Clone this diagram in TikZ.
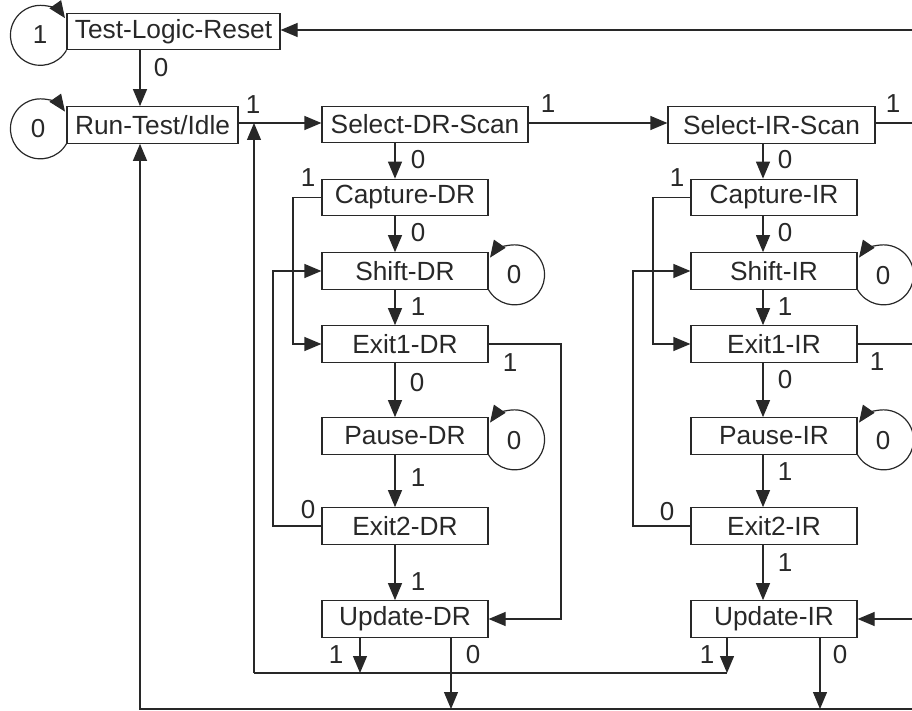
\documentclass[tikz,border=0pt]{standalone}
\usepackage{fontspec}
\setmainfont{Liberation Sans}
\usetikzlibrary{arrows.meta}
\definecolor{ink}{RGB}{40,40,40}
\begin{document}
\begin{tikzpicture}[x=1pt,y=1pt,
  st/.style={draw=ink, line width=1.2pt, minimum height=36.5pt, inner sep=0pt, text=ink, font=\fontsize{26.3}{30}\selectfont},
  col/.style={st, minimum width=166pt},
  lbl/.style={text=ink, inner sep=0pt, font=\fontsize{26}{30}\selectfont},
  wire/.style={draw=ink, line width=1.2pt},
  arr/.style={wire, -{Triangle[length=17pt,width=14pt]}},
]
\useasboundingbox (0,0) rectangle (912,710);

% states
\node[st, minimum width=213pt] (tlr) at (173.5,678.5) {Test-Logic-Reset};
\node[st, minimum width=171pt] (rti) at (152.5,585) {Run-Test/Idle};
\node[st, minimum width=206pt] (sdr) at (425,585.5) {Select-DR-Scan};
\node[st, minimum width=207pt] (sir) at (771.5,585) {Select-IR-Scan};

\node[col] (cdr)  at (405,512.5) {Capture-DR};
\node[col] (shdr) at (405,439)   {Shift-DR};
\node[col] (e1dr) at (405,366)   {Exit1-DR};
\node[col] (pdr)  at (405,274)   {Pause-DR};
\node[col] (e2dr) at (405,184)   {Exit2-DR};
\node[col] (udr)  at (405,91)    {Update-DR};

\node[col] (cir)  at (774,512.5) {Capture-IR};
\node[col] (shir) at (774,439)   {Shift-IR};
\node[col] (e1ir) at (774,366)   {Exit1-IR};
\node[col] (pir)  at (774,274)   {Pause-IR};
\node[col] (e2ir) at (774,184)   {Exit2-IR};
\node[col] (uir)  at (774,91)    {Update-IR};

% helper coordinates
\coordinate (x140) at (140,0);
\coordinate (dc) at (395,0);
\coordinate (ic) at (763,0);
\coordinate (r1) at (0,587);
\coordinate (eR) at (912,0);
\coordinate (eT) at (912,680);
\coordinate (j1) at (254,587);
\coordinate (j2) at (254,37);
\coordinate (x360) at (360,0);
\coordinate (x727) at (727,0);
\coordinate (x451) at (451,0);
\coordinate (x820) at (820,0);
\coordinate (b1) at (140,1);
\coordinate (b2) at (912,1);
\coordinate (dA) at (293,0);
\coordinate (dB) at (273,0);
\coordinate (dC) at (561,0);
\coordinate (iA) at (653,0);
\coordinate (iB) at (633,0);

% top rows
\draw[arr] (tlr.south -| x140) -- (rti.north -| x140);
\draw[arr] (rti.east |- r1) -- (sdr.west |- r1);
\draw[arr] (sdr.east |- r1) -- (sir.west |- r1);
\draw[wire] (sir.east |- r1) -- (eR |- r1);
\draw[arr] (eT) -- (tlr.east |- eT);

% self loops left
\draw[arr] (tlr.south west) arc[start angle=-30, end angle=-325, radius=30pt];
\draw[arr] (rti.south west) arc[start angle=-30, end angle=-325, radius=30pt];

% DR column
\draw[arr] (sdr.south -| dc) -- (cdr.north -| dc);
\draw[arr] (cdr.south -| dc) -- (shdr.north -| dc);
\draw[arr] (shdr.south -| dc) -- (e1dr.north -| dc);
\draw[arr] (e1dr.south -| dc) -- (pdr.north -| dc);
\draw[arr] (pdr.south -| dc) -- (e2dr.north -| dc);
\draw[arr] (e2dr.south -| dc) -- (udr.north -| dc);
\draw[arr] (cdr.west) -| (dA |- e1dr.west) -- (e1dr.west);
\draw[arr] (e2dr.west) -| (dB |- shdr.west) -- (shdr.west);
\draw[arr] (e1dr.east) -| (dC |- udr.east) -- (udr.east);
\draw[arr] (shdr.south east) arc[start angle=-150, end angle=145, radius=30pt];
\draw[arr] (pdr.south east) arc[start angle=-150, end angle=145, radius=30pt];

% IR column
\draw[arr] (sir.south -| ic) -- (cir.north -| ic);
\draw[arr] (cir.south -| ic) -- (shir.north -| ic);
\draw[arr] (shir.south -| ic) -- (e1ir.north -| ic);
\draw[arr] (e1ir.south -| ic) -- (pir.north -| ic);
\draw[arr] (pir.south -| ic) -- (e2ir.north -| ic);
\draw[arr] (e2ir.south -| ic) -- (uir.north -| ic);
\draw[arr] (cir.west) -| (iA |- e1ir.west) -- (e1ir.west);
\draw[arr] (e2ir.west) -| (iB |- shir.west) -- (shir.west);
\draw[wire] (e1ir.east) -- (eR |- e1ir.east);
\draw[arr] (eR |- uir.east) -- (uir.east);
\draw[arr] (shir.south east) arc[start angle=-150, end angle=145, radius=30pt];
\draw[arr] (pir.south east) arc[start angle=-150, end angle=145, radius=30pt];

% exits of update states
\draw[arr] (j2) -- (j1);
\draw[wire] (j2) -- (x727 |- j2);
\draw[arr] (udr.south -| x360) -- (x360 |- j2);
\draw[arr] (uir.south -| x727) -- (x727 |- j2);
\draw[arr] (b2) -- (b1) -- (rti.south -| b1);
\draw[arr] (udr.south -| x451) -- (x451 |- b1);
\draw[arr] (uir.south -| x820) -- (x820 |- b1);

% labels
\node[lbl] (l01) at (40,675) {1};
\node[lbl] (l02) at (38,581) {0};
\node[lbl] (l03) at (161,642) {0};
\node[lbl] (l04) at (253,605) {1};
\node[lbl] (l05) at (548,606) {1};
\node[lbl] (l06) at (893,606) {1};

\node[lbl] (l10) at (418,550) {0};
\node[lbl] (l11) at (308,532) {1};
\node[lbl] (l12) at (418,477) {0};
\node[lbl] (l13) at (514,435) {0};
\node[lbl] (l14) at (418,403) {1};
\node[lbl] (l15) at (510,347) {1};
\node[lbl] (l16) at (417,327) {0};
\node[lbl] (l17) at (514,269) {0};
\node[lbl] (l18) at (418,232) {1};
\node[lbl] (l19) at (308,200) {0};
\node[lbl] (l20) at (418,128) {1};
\node[lbl] (l21) at (336,55) {1};
\node[lbl] (l22) at (473,55) {0};

\node[lbl] (l30) at (785,550) {0};
\node[lbl] (l31) at (677,532) {1};
\node[lbl] (l32) at (785,477) {0};
\node[lbl] (l33) at (883,434) {0};
\node[lbl] (l34) at (785,403) {1};
\node[lbl] (l35) at (877,348) {1};
\node[lbl] (l36) at (785,330) {0};
\node[lbl] (l37) at (883,269) {0};
\node[lbl] (l38) at (785,238) {1};
\node[lbl] (l39) at (667,198) {0};
\node[lbl] (l40) at (785,147) {1};
\node[lbl] (l41) at (707,55) {1};
\node[lbl] (l42) at (840,55) {0};
\end{tikzpicture}
\end{document}
